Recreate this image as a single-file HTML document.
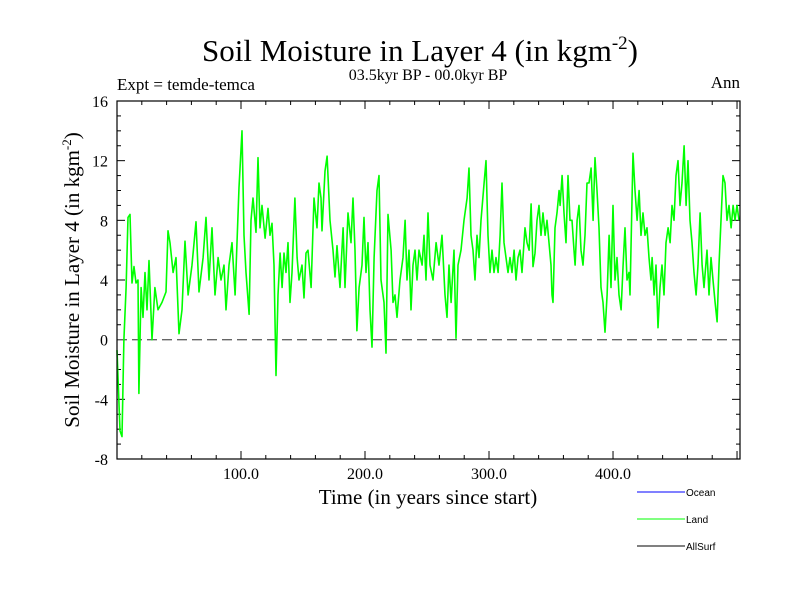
<!DOCTYPE html>
<html><head><meta charset="utf-8"><style>
body{margin:0;background:#fff}
svg{display:block;font-family:"Liberation Serif",serif}
</style></head><body>
<svg id="c" width="800" height="600">
<text x="420" y="61" font-size="31" text-anchor="middle">Soil Moisture in Layer 4 (in kgm<tspan font-size="19" dy="-12">-2</tspan><tspan dy="12">)</tspan></text>
<text x="428" y="80" font-size="16" text-anchor="middle">03.5kyr BP - 00.0kyr BP</text>
<text x="117" y="90" font-size="17">Expt = temde-temca</text>
<text x="740" y="88" font-size="17" text-anchor="end">Ann</text>
<text x="428" y="504" font-size="21" text-anchor="middle">Time (in years since start)</text>
<text transform="translate(79,280) rotate(-90)" font-size="21" text-anchor="middle">Soil Moisture in Layer 4 (in kgm<tspan font-size="13" dy="-8">-2</tspan><tspan dy="8">)</tspan></text>
<g id="ticks"></g><g id="plot"></g>
<rect x="117" y="101" width="623" height="358" fill="none" stroke="#000" stroke-width="1.2"/>
<g font-family="Liberation Sans,sans-serif" font-size="10">
<line x1="637" y1="492" x2="685" y2="492" stroke="#0000ff"/>
<text x="686" y="496">Ocean</text>
<line x1="637" y1="519" x2="685" y2="519" stroke="#00ff00"/>
<text x="686" y="523">Land</text>
<line x1="637" y1="546" x2="685" y2="546" stroke="#000"/>
<text x="686" y="550">AllSurf</text>
</g>
</svg>
<script>
const years=[0,2.4,4,5.6,7.3,8.9,10.5,12.1,13.7,15.3,16.9,17.7,19.4,21,22.6,24.2,25.8,28.2,30.6,33.1,36.3,39.5,41.1,42.7,45.2,47.6,50,52.4,54.8,57.3,60.5,63.7,66.1,69.4,71.8,74.2,76.6,79,81.5,83.9,86.3,87.9,90.3,92.7,95.2,98.4,100.8,102.4,104,106.5,108.1,109.7,112.1,113.7,115.3,116.9,119.4,121.8,123.4,125,126.6,128.2,129.8,131.5,133.1,134.7,136.3,137.9,139.5,141.1,143.5,145.2,146.8,149.2,150.8,152.4,154,156.5,158.9,161.3,162.9,164.5,
165.3,167.7,169.4,171.8,174.2,175.8,177.4,179.8,182.3,183.9,186.3,188.7,190.3,191.9,193.5,195.2,197.6,199.2,200.8,202.4,204,205.6,207.3,209.7,211.3,212.9,215.3,216.9,218.5,221,222.6,224.2,225.8,228.2,230.6,232.3,233.9,235.5,237.1,238.7,240.3,241.9,243.5,246,247.6,249.2,250.8,252.4,254.8,257.3,259.7,262.1,264.5,266.1,267.7,269.4,271.8,273.4,275,277.4,279.8,282.3,283.9,285.5,287.1,288.7,290.3,291.9,293.5,296,297.6,299.2,300.8,302.4,304,305.6,307.3,308.9,310.5,312.1,313.7,315.3,316.9,318.5,320.2,321.8,323.4,325,326.6,329,330.6,332.3,
333.9,335.5,337.1,338.7,340.3,341.9,343.5,345.2,346.8,348.4,350,350.8,351.6,353.2,354.8,356.5,357.3,358.9,360.5,362.1,363.7,365.3,366.9,368.5,369.4,371,372.6,374.2,375.8,377.4,379,380.6,382.3,383.9,385.5,387.1,388.7,390.3,391.9,393.5,395.2,396.8,398.4,400,401.6,403.2,404.8,406.5,408.1,409.7,411.3,412.9,413.7,416.1,417.7,419.4,421,422.6,424.2,425.8,427.4,429,430.6,431.5,433.1,434.7,436.3,437.9,439.5,441.1,442.7,444.4,446,447.6,449.2,450.8,452.4,454,455.6,457.3,458.9,460.5,462.1,463.7,465.3,467,468.5,470.2,471.8,473.4,475.8,477.4,479,480.6,482.3,483.9,485.5,487.1,488.7,490.3,491.9,493.5,495.2,496.8,498.4,500,501.6];
const landValues=[-0.7,-6.1,-6.5,0,3.5,8.2,8.4,3.8,4.9,3.8,4.0,-3.6,3.5,1.5,4.5,2.0,5.3,0,3.5,2.0,2.5,3.2,7.3,6.5,4.5,5.5,0.4,2.0,6.6,3.0,5.0,7.9,3.2,5.5,8.2,4.0,7.5,3.0,5.5,4.0,5.0,2.0,5.0,6.5,3.0,10.2,14.0,7.0,4.5,1.7,8.0,9.5,7.2,12.2,7.5,9.0,6.8,8.8,7.0,7.8,5.0,-2.4,3.0,5.8,3.5,5.8,4.5,6.5,2.5,4.5,9.5,5.5,4.0,5.0,2.8,5.8,6.0,3.5,9.5,7.5,10.5,9.5,
7.3,11.3,12.3,8.0,6.0,4.2,6.3,3.5,7.5,3.5,8.5,6.5,9.5,6.0,0.6,3.5,5.0,8.2,4.5,6.5,2.0,-0.5,5.5,10.0,11.0,4.0,2.5,-0.9,8.4,6.0,2.5,3.0,1.5,4.0,5.5,8.0,4.0,6.0,2.0,5.0,6.0,4.0,6.0,5.0,7.0,4.0,8.5,5.0,4.0,6.5,5.0,7.0,3.0,1.5,5.0,2.5,6.0,0.1,5.0,6.0,8.0,9.5,11.5,7.0,6.0,4.0,7.0,5.5,8.0,10.5,12.0,7.0,4.5,6.0,4.5,5.5,4.5,7.0,10.5,6.5,5.5,4.5,5.5,4.5,6.0,4.0,5.5,6.0,4.5,7.5,6.5,6.0,
9.1,4.9,5.8,8.0,9.0,7.0,8.5,7.0,8.0,6.5,5.0,3.0,2.5,7.5,8.5,10.0,9.0,11.0,8.5,6.5,11.0,8.0,8.0,6.0,5.0,8.0,9.0,6.0,5.0,7.0,10.5,10.5,11.5,8.0,12.2,10.0,7.5,3.5,2.5,0.5,3.0,7.0,3.5,9.0,4.0,5.5,3.0,2.0,5.0,7.5,4.0,4.5,3.0,12.5,10.0,8.0,10.0,7.0,8.5,7.0,7.5,5.5,4.0,5.5,3.0,5.0,0.8,3.5,5.0,3.0,6.5,7.5,6.5,9.0,8.0,11.0,12.0,9.0,10.5,13.0,9.0,12.0,8.0,6.5,4.5,3.0,5.0,8.5,5.0,3.5,6.0,3.0,5.5,4.0,2.5,1.2,5.0,8.0,11.0,10.5,8.0,9.0,7.5,9.0,8.0,9.0,8.0];
const yTickValues=[16,12,8,4,0,-4,-8];
const xTickValues=[100,200,300,400];
const xTickLabels=["100.0","200.0","300.0","400.0"];
const NS="http://www.w3.org/2000/svg";
const X0=117,X1=740,Y0=459,Y1=101,XMIN=0,XMAX=502.4,YMIN=-8,YMAX=16;
const sx=v=>X0+(v-XMIN)/(XMAX-XMIN)*(X1-X0);
const sy=v=>Y0-(v-YMIN)/(YMAX-YMIN)*(Y0-Y1);
function mk(t,a,p){const e=document.createElementNS(NS,t);for(const k in a)e.setAttribute(k,a[k]);p.appendChild(e);return e;}
const tg=document.getElementById('ticks'),pg=document.getElementById('plot');
for(let v=YMIN;v<=YMAX;v++){const major=v%4===0;const L=major?8:4;
 const a=mk('line',{x1:X0,x2:X0+L,y1:sy(v),y2:sy(v),stroke:'#000'},tg);
 
 
 const b=mk('line',{x1:X1,x2:X1-L,y1:sy(v),y2:sy(v),stroke:'#000'},tg);
 
 }
yTickValues.forEach(v=>{const t=mk('text',{x:108,y:sy(v)+6,'font-size':16,'text-anchor':'end'},tg);t.textContent=v;
 
 });
for(let v=20;v<XMAX;v+=20){const major=v%100===0;const L=major?8:4;
 const a=mk('line',{x1:sx(v),x2:sx(v),y1:Y0,y2:Y0-L,stroke:'#000'},tg);
 
 
 const b=mk('line',{x1:sx(v),x2:sx(v),y1:Y1,y2:Y1+L,stroke:'#000'},tg);
 
 }
xTickValues.forEach((v,i)=>{const t=mk('text',{x:sx(v),y:479,'font-size':16,'text-anchor':'middle'},tg);t.textContent=xTickLabels[i];
 
 });
const z=mk('line',{x1:X0,x2:X1,y1:sy(0),y2:sy(0),stroke:'#666','stroke-width':1.3,'stroke-dasharray':'10,5'},pg);


const pts=years.map((y,i)=>sx(y).toFixed(1)+','+sy(landValues[i]).toFixed(1)).join(' ');
const pl=mk('polyline',{points:pts,fill:'none',stroke:'#00ff00','stroke-width':1.6,'stroke-linejoin':'round'},pg);


</script>
</body></html>
